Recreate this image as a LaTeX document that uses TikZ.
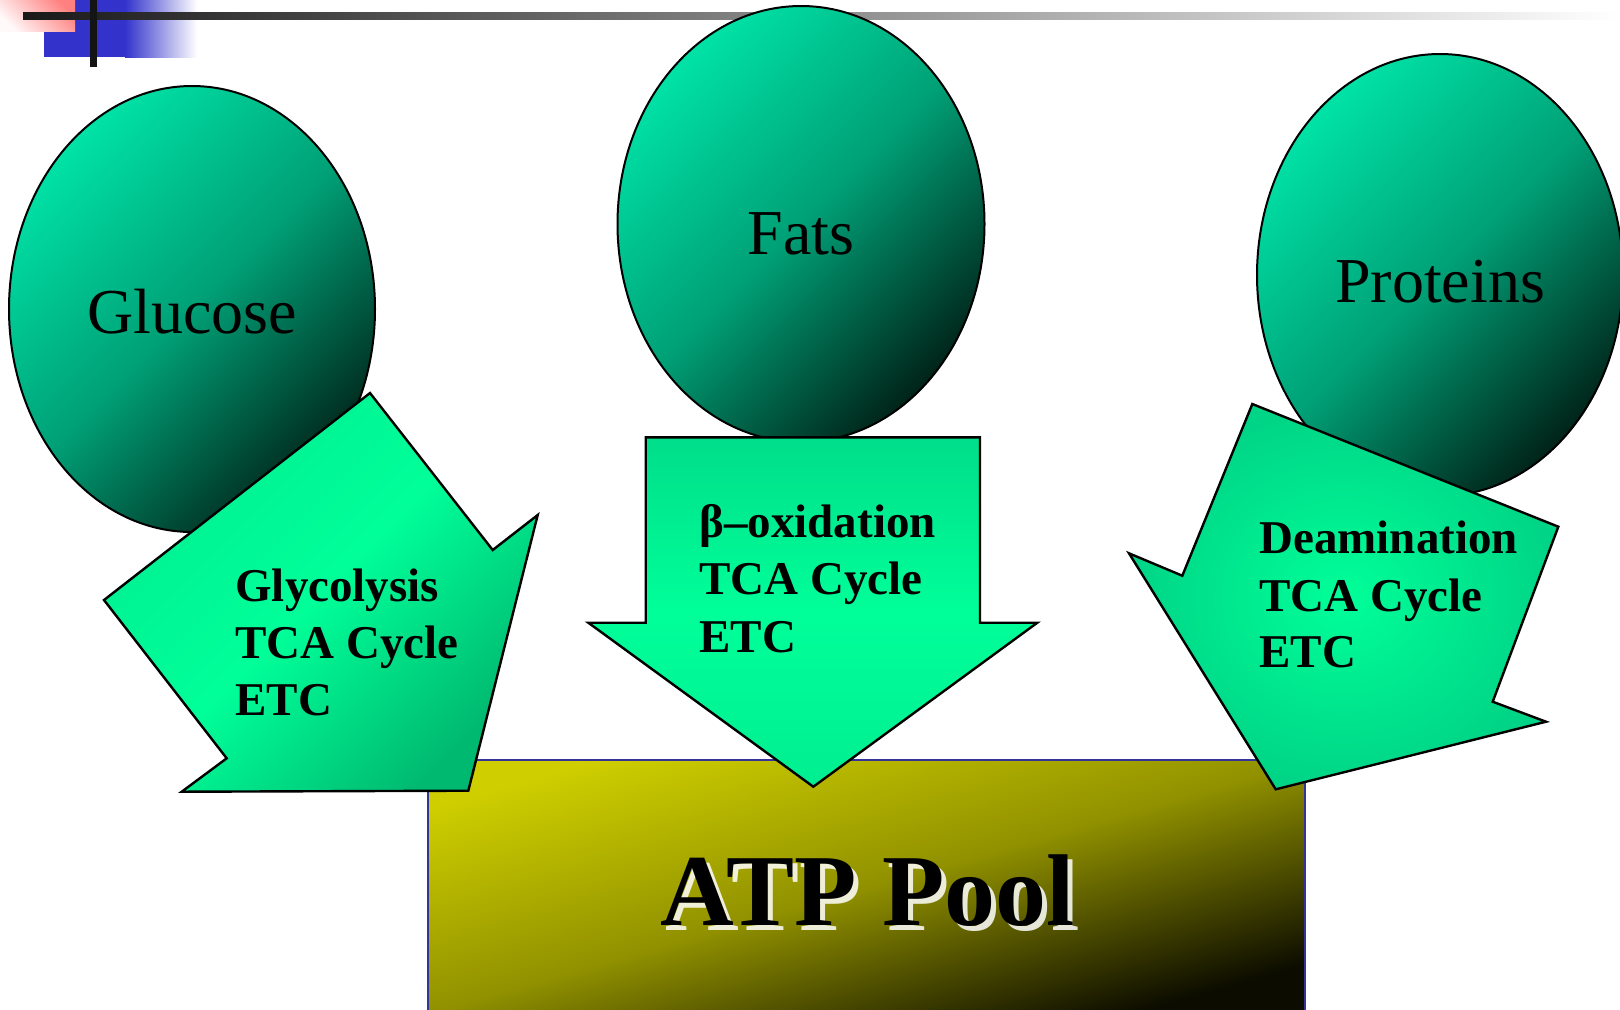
\documentclass[tikz,border=0pt]{standalone}
\usepackage{fontspec}
\setmainfont{Liberation Serif}
\usetikzlibrary{shapes.geometric}
\definecolor{ellTop}{RGB}{0,226,166}
\definecolor{ellMid}{RGB}{0,160,118}
\definecolor{ellBot}{RGB}{0,36,25}
\definecolor{arrBright}{RGB}{0,255,153}
\definecolor{arrDark}{RGB}{0,185,112}
\definecolor{arrSoft}{RGB}{0,238,145}
\definecolor{arrTop}{RGB}{0,222,138}
\definecolor{arrEdge}{RGB}{0,212,134}
\definecolor{boxTop}{RGB}{206,206,0}
\definecolor{boxMid}{RGB}{145,145,0}
\definecolor{boxBot}{RGB}{12,12,0}
\definecolor{boxLine}{RGB}{51,51,153}
\definecolor{decoBlue}{RGB}{51,51,204}
\definecolor{decoPink}{RGB}{255,128,128}
\tikzset{
  blob/.style={ellipse, draw=black, line width=1pt, inner sep=0pt,
    top color=ellTop, bottom color=ellBot, middle color=ellMid, shading angle=45},
  blobtext/.style={anchor=base, inner sep=0pt, font=\fontsize{32}{38}\selectfont},
  arrowshape/.style={draw=black, line width=1.2pt, line join=miter},
  steptext/.style={anchor=base west, inner sep=0pt, font=\fontsize{23.5}{28}\selectfont\bfseries},
  atpfont/.style={anchor=base, inner sep=0pt, font=\fontsize{51}{60}\selectfont\bfseries},
}
\begin{document}
\begin{tikzpicture}[x=0.5pt,y=-0.5pt]
\useasboundingbox (0,0) rectangle (1620,1009);
% top-left decoration
\fill[decoBlue] (44,0) rectangle (126,57);
\shade[left color=decoBlue, right color=white] (125,0) rectangle (197,57);
\shade[top color=decoPink, bottom color=white!95!decoPink, shading angle=-45] (0,0) rectangle (75,31);
\shade[left color=black!90, right color=white] (23,12) rectangle (1620,19);
\fill[black!92] (90,0) rectangle (97,67);
% ATP pool box
\node[draw=boxLine, line width=1pt, minimum width=438.5pt, minimum height=126.5pt, inner sep=0pt,
  top color=boxTop, bottom color=boxBot, middle color=boxMid, shading angle=16, anchor=north west] (atp) at (427,759) {};
\node[atpfont, text=white, opacity=0.85] (atpshadow) at (873,930) {ATP Pool};
\node[atpfont] (atptext) at (868,925) {ATP Pool};
% ellipses
\node[blob, minimum width=183pt, minimum height=223pt] (glucose) at (192,309) {};
\node[blobtext] (tglucose) at (192,333) {Glucose};
\node[blob, minimum width=183.5pt, minimum height=218pt] (fats) at (801,224) {};
\node[blobtext] (tfats) at (801,254) {Fats};
\node[blob, minimum width=183pt, minimum height=221pt] (proteins) at (1440,275) {};
\node[blobtext] (tproteins) at (1440,302) {Proteins};
% arrows
\draw[arrowshape, top color=arrSoft, bottom color=arrDark, middle color=arrBright, shading angle=45]
  (370,393) -- (492.7,550) -- (537.7,515) -- (468.3,790.7) -- (181.7,791.7) -- (226.7,758.3) -- (104,600) -- cycle;
\draw[arrowshape, top color=arrTop, bottom color=arrSoft, middle color=arrBright]
  (645.7,437.3) -- (980,437.3) -- (980,622.7) -- (1037.3,622.7) -- (813.3,786.7) -- (588.3,622.7) -- (645.7,622.7) -- cycle;
\draw[arrowshape, inner color=arrBright, outer color=arrEdge]
  (1252.3,404) -- (1558.3,526.7) -- (1492.7,701.7) -- (1546,721.7) -- (1275.7,789.3) -- (1129,553.3) -- (1182.3,575.7) -- cycle;
% arrow texts
\node[steptext] (g1) at (235,601) {Glycolysis};
\node[steptext] (g2) at (235,658.5) {TCA Cycle};
\node[steptext] (g3) at (235,715.5) {ETC};
\node[steptext] (f1) at (699,537) {β–oxidation};
\node[steptext] (f2) at (699,594.5) {TCA Cycle};
\node[steptext] (f3) at (699,652) {ETC};
\node[steptext] (p1) at (1259,553.5) {Deamination};
\node[steptext] (p2) at (1259,611) {TCA Cycle};
\node[steptext] (p3) at (1259,667.5) {ETC};
\end{tikzpicture}
\end{document}
